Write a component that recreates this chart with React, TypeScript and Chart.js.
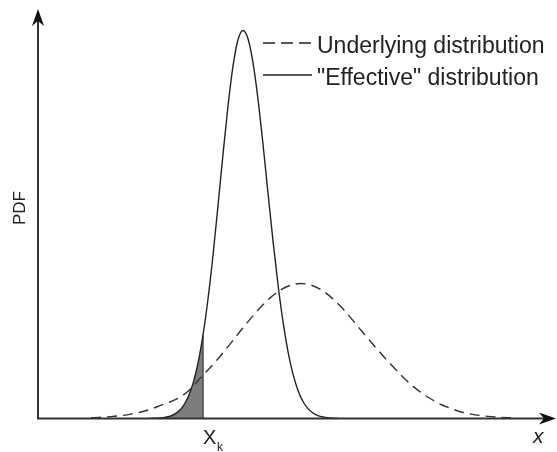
import React, { useEffect, useRef } from "react";
import { Chart, registerables } from "chart.js";

Chart.register(...registerables);

// "Effective" distribution (solid)
const effectiveX = [148, 153, 158, 163, 168, 173, 178, 183, 188, 193, 198, 203, 208, 213, 218, 223, 228, 233, 238, 243, 248, 253, 258, 263, 268, 273, 278, 283, 288, 293, 298, 303, 308, 313, 318, 323, 328, 333, 338];
const effectivePdf = [0.0, 0.2, 0.4, 0.8, 1.7, 3.5, 6.7, 12.2, 21.2, 35.1, 55.4, 83.3, 119.5, 163.3, 212.7, 264.1, 312.5, 352.4, 378.8, 388, 379.7, 355.8, 319.2, 274.2, 225.5, 177.6, 134.0, 96.8, 66.9, 44.3, 28.1, 17.0, 9.9, 5.5, 2.9, 1.5, 0.7, 0.3, 0.1];

// Underlying distribution (dashed)
const underlyingX = [91, 101, 111, 121, 131, 141, 151, 161, 171, 181, 191, 201, 211, 221, 231, 241, 251, 261, 271, 281, 291, 301, 311, 321, 331, 341, 351, 361, 371, 381, 391, 401, 411, 421, 431, 441, 451, 461, 471, 481, 491, 501, 511];
const underlyingPdf = [0.7, 1.2, 1.9, 2.9, 4.4, 6.5, 9.4, 13.3, 17.0, 22.0, 30.0, 41.3, 51.8, 63.3, 75.6, 88.2, 100.4, 111.7, 121.4, 128.8, 133.4, 135, 133.4, 128.8, 121.4, 111.7, 100.4, 88.2, 76.5, 65.0, 54.0, 43.5, 34.0, 26.0, 19.5, 14.0, 10.0, 6.5, 4.4, 2.9, 1.9, 1.2, 0.7];

const xk = 203;
const xkPdf = 83.3;

const legendLabels = ["Underlying distribution", "\"Effective\" distribution"];
const yAxisLabel = "PDF";
const xAxisLabel = "x";

const X_MIN = 38;
const X_MAX = 556;
const Y_MAX = 409.5;

const FONT = "'Liberation Sans', Arial, sans-serif";
const INK = "#222222";
const AXIS = "#333333";

function drawArrow(ctx: CanvasRenderingContext2D, tx: number, ty: number, dir: "up" | "right") {
  ctx.save();
  ctx.fillStyle = "#111";
  ctx.beginPath();
  if (dir === "up") {
    ctx.moveTo(tx, ty);
    ctx.lineTo(tx + 6, ty + 17);
    ctx.lineTo(tx, ty + 12);
    ctx.lineTo(tx - 6, ty + 17);
  } else {
    ctx.moveTo(tx, ty);
    ctx.lineTo(tx - 17, ty - 6);
    ctx.lineTo(tx - 12, ty);
    ctx.lineTo(tx - 17, ty + 6);
  }
  ctx.closePath();
  ctx.fill();
  ctx.restore();
}

const decorPlugin = {
  id: "decor",
  afterDraw(chart: any) {
    const ctx: CanvasRenderingContext2D = chart.ctx;
    const xs = chart.scales.x;
    const ys = chart.scales.y;
    const x0 = xs.getPixelForValue(X_MIN);
    const y0 = ys.getPixelForValue(0);
    const xEnd = xs.getPixelForValue(X_MAX);
    const yTop = ys.getPixelForValue(Y_MAX);

    ctx.save();
    // axes
    ctx.strokeStyle = AXIS;
    ctx.lineWidth = 2;
    ctx.beginPath();
    ctx.moveTo(x0, y0 + 1);
    ctx.lineTo(x0, yTop + 12);
    ctx.moveTo(x0 - 1, y0);
    ctx.lineTo(xEnd - 12, y0);
    ctx.stroke();
    drawArrow(ctx, x0, yTop, "up");
    drawArrow(ctx, xEnd, y0, "right");

    // legend
    ctx.strokeStyle = INK;
    ctx.lineWidth = 1.3;
    ctx.setLineDash([12, 6]);
    ctx.beginPath();
    ctx.moveTo(263, 43);
    ctx.lineTo(312, 43);
    ctx.stroke();
    ctx.setLineDash([]);
    ctx.beginPath();
    ctx.moveTo(263, 75);
    ctx.lineTo(312, 75);
    ctx.stroke();

    ctx.fillStyle = INK;
    ctx.font = `23px ${FONT}`;
    ctx.textBaseline = "alphabetic";
    ctx.textAlign = "left";
    ctx.fillText(legendLabels[0], 317, 53);
    ctx.fillText(legendLabels[1], 317, 85);

    // y label
    ctx.save();
    ctx.translate(20, 208);
    ctx.rotate(-Math.PI / 2);
    ctx.textAlign = "center";
    ctx.textBaseline = "middle";
    ctx.font = `17px ${FONT}`;
    ctx.fillText(yAxisLabel, 0, 0);
    ctx.restore();

    // X_k label
    const px = xs.getPixelForValue(xk);
    ctx.textAlign = "left";
    ctx.font = `20px ${FONT}`;
    ctx.fillText("X", px, 444);
    ctx.font = `12px ${FONT}`;
    ctx.fillText("k", px + 14, 451);

    // x label
    ctx.font = `italic 21px ${FONT}`;
    ctx.fillText(xAxisLabel, 533, 443);
    ctx.restore();
  },
};

export default function App() {
  const ref = useRef<HTMLCanvasElement | null>(null);

  useEffect(() => {
    if (!ref.current) return;
    const effective = effectiveX.map((x, i) => ({ x, y: effectivePdf[i] }));
    const underlying = underlyingX.map((x, i) => ({ x, y: underlyingPdf[i] }));
    const shaded = effective.filter((p) => p.x <= xk);
    const edge = [
      { x: xk, y: 0 },
      { x: xk, y: xkPdf },
    ];

    const chart = new Chart(ref.current, {
      type: "line",
      data: {
        datasets: [
          {
            data: effective,
            borderColor: INK,
            borderWidth: 1.4,
            pointRadius: 0,
            fill: false,
            cubicInterpolationMode: "monotone",
          },
          {
            data: underlying,
            borderColor: "#333333",
            borderWidth: 1.4,
            borderDash: [10, 6],
            pointRadius: 0,
            fill: false,
            cubicInterpolationMode: "monotone",
          },
          {
            data: edge,
            borderColor: "#4a4a4a",
            borderWidth: 1.5,
            pointRadius: 0,
            fill: false,
            tension: 0,
          },
          {
            data: shaded,
            borderColor: "rgba(0,0,0,0)",
            borderWidth: 0,
            backgroundColor: "#7d7d7d",
            pointRadius: 0,
            fill: "origin",
            cubicInterpolationMode: "monotone",
          },
        ],
      },
      options: {
        animation: false,
        responsive: false,
        events: [],
        layout: { padding: { left: 38, right: 1, top: 9, bottom: 33.5 } },
        plugins: { legend: { display: false }, tooltip: { enabled: false } },
        scales: {
          x: { type: "linear", min: X_MIN, max: X_MAX, display: false },
          y: { type: "linear", min: 0, max: Y_MAX, display: false },
        },
      },
      plugins: [decorPlugin],
    });
    return () => chart.destroy();
  }, []);

  return (
    <div style={{ position: "fixed", left: 0, top: 0, width: 557, height: 452, background: "#fff" }}>
      <canvas ref={ref} width={557} height={452} style={{ display: "block" }} />
    </div>
  );
}
